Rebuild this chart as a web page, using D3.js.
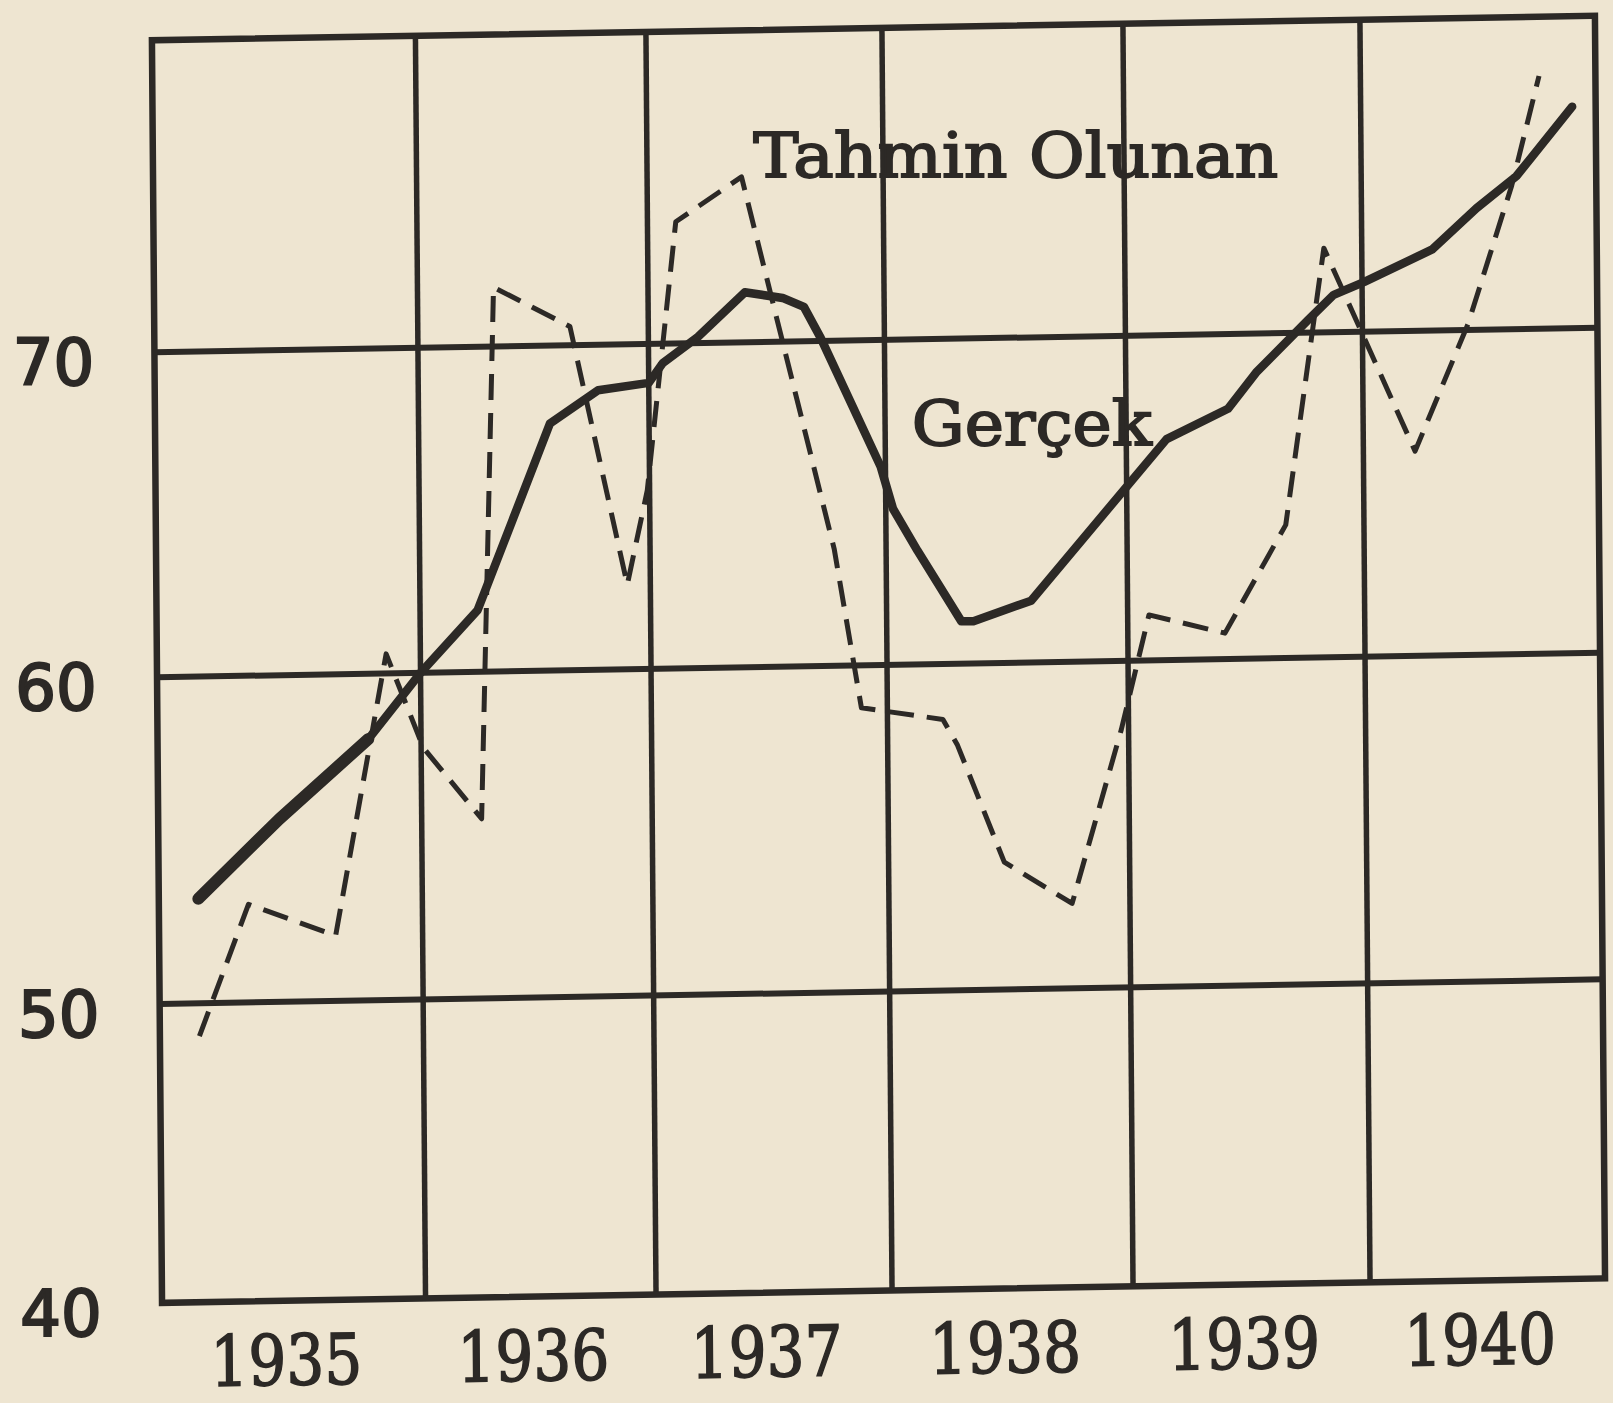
<!DOCTYPE html>
<html><head><meta charset="utf-8">
<script src="https://cdn.jsdelivr.net/npm/d3@7"></script>
<style>html,body{margin:0;padding:0;background:#eee5d1;} svg{display:block;}</style>
</head><body><svg id="c" width="1613" height="1403"></svg>
<script>
// ---- data ----
const years = [1935, 1936, 1937, 1938, 1939, 1940];
const yTickValues = [40, 50, 60, 70];
const seriesNames = ["Gerçek", "Tahmin Olunan"];

const gercekX = [1935.15, 1935.46, 1935.80, 1936.00, 1936.25, 1936.57, 1936.78, 1937.00, 1937.06, 1937.21,
                 1937.41, 1937.57, 1937.66, 1937.73, 1937.98, 1938.03, 1938.13, 1938.31, 1938.36, 1938.60,
                 1939.17, 1939.43, 1939.55, 1939.77, 1939.88, 1940.01, 1940.30, 1940.49, 1940.66, 1940.90];
const gercekY = [53.2, 55.6, 58.0, 60.0, 61.9, 67.6, 68.6, 68.8, 69.4, 70.2,
                 71.6, 71.4, 71.1, 70.1, 66.1, 64.8, 63.5, 61.3, 61.3, 61.9,
                 66.8, 67.7, 68.8, 70.4, 71.2, 71.6, 72.6, 73.9, 74.9, 77.1];

const tahminX = [1935.15, 1935.34, 1935.67, 1935.87, 1936.01, 1936.26, 1936.33, 1936.66, 1936.90, 1936.99,
                 1937.12, 1937.40, 1937.78, 1937.89, 1938.23, 1938.29, 1938.48, 1938.76, 1938.97, 1939.09,
                 1939.41, 1939.67, 1939.84, 1940.22, 1940.45, 1940.64, 1940.76];
const tahminY = [48.9, 53.0, 52.0, 60.6, 57.7, 55.5, 71.9, 70.6, 62.6, 65.5,
                 73.9, 75.3, 63.6, 58.7, 58.3, 57.5, 53.9, 52.6, 57.9, 61.4,
                 60.8, 64.1, 72.7, 66.3, 70.2, 74.6, 78.1];

// ---- layout ----
const W = 1613, H = 1403;
const cx = 880, cy = 662, skewB = -0.017, skewC = 0.008;
const ink = "#2c2926";

const x = d3.scaleLinear()
  .domain([1935, 1936, 1937, 1938, 1939, 1940, 1941])
  .range([-723, -459.5, -229, 7, 248, 485, 720]);
const y = d3.scaleLinear()
  .domain([80, 70, 60, 50, 40])
  .range([-634, -322, 3, 329.6, 628.6]);

function toScreen(u, v) { return [cx + u + skewC * v, cy + skewB * u + v]; }

const svg = d3.select("#c");
svg.append("rect").attr("width", W).attr("height", H).attr("fill", "#eee5d1");

const g = svg.append("g")
  .attr("transform", `translate(${cx},${cy}) matrix(1,${skewB},${skewC},1,0,0)`);

// grid
const x0 = x(1935), x1 = x(1941), yTop = y(80), yBot = y(40);
g.selectAll("line.v").data(years.slice(1)).join("line")
  .attr("class", "v")
  .attr("x1", d => x(d)).attr("x2", d => x(d))
  .attr("y1", yTop).attr("y2", yBot)
  .attr("stroke", ink).attr("stroke-width", 5.5);
g.selectAll("line.h").data(yTickValues.filter(v => v > 40)).join("line")
  .attr("class", "h")
  .attr("x1", x0).attr("x2", x1)
  .attr("y1", d => y(d)).attr("y2", d => y(d))
  .attr("stroke", ink).attr("stroke-width", 6);
g.append("rect")
  .attr("x", x0).attr("y", yTop).attr("width", x1 - x0).attr("height", yBot - yTop)
  .attr("fill", "none").attr("stroke", ink).attr("stroke-width", 6.5);

// series
const gercek = gercekX.map((d, i) => [d, gercekY[i]]);
const tahmin = tahminX.map((d, i) => [d, tahminY[i]]);
const line = d3.line().x(d => x(d[0])).y(d => y(d[1]));

g.append("path").datum(tahmin).attr("d", line)
  .attr("fill", "none").attr("stroke", ink).attr("stroke-width", 5)
  .attr("stroke-dasharray", "26,13").attr("stroke-linejoin", "round");

g.append("path").datum(gercek).attr("d", line)
  .attr("fill", "none").attr("stroke", ink).attr("stroke-width", 8.5)
  .attr("stroke-linejoin", "round").attr("stroke-linecap", "round");
g.append("path").datum(gercek.slice(0, 3)).attr("d", line)
  .attr("fill", "none").attr("stroke", ink).attr("stroke-width", 12)
  .attr("stroke-linejoin", "round").attr("stroke-linecap", "round");

// x labels (typed, follow the drawn baseline)
g.selectAll("text.xl").data(years).join("text")
  .attr("class", "xl")
  .attr("x", d => x(d + 0.5) - 8)
  .attr("y", yBot + 84)
  .attr("text-anchor", "middle")
  .attr("font-family", "DejaVu Serif")
  .attr("font-size", 70)
  .attr("textLength", 152).attr("lengthAdjust", "spacingAndGlyphs")
  .attr("fill", ink).attr("stroke", ink).attr("stroke-width", 1.6)
  .text(d => d);

// y labels
svg.selectAll("text.yl").data(yTickValues).join("text")
  .attr("class", "yl")
  .attr("x", d => toScreen(x(1935), y(d))[0] - 101)
  .attr("y", d => toScreen(x(1935), y(d))[1] + 11)
  .attr("text-anchor", "middle").attr("dominant-baseline", "central")
  .attr("font-family", "DejaVu Sans")
  .attr("font-size", 64)
  .attr("fill", ink).attr("stroke", ink).attr("stroke-width", 2.2)
  .text(d => d);

// series annotations (typed)
const annPos = [[1938.11, 66.75, 240], [1937.45, 75.3, 525]];
seriesNames.forEach((name, i) => {
  const p = toScreen(x(annPos[i][0]), y(annPos[i][1]));
  svg.append("text")
    .attr("x", p[0]).attr("y", p[1])
    .attr("font-family", "DejaVu Serif")
    .attr("font-size", 62)
    .attr("textLength", annPos[i][2]).attr("lengthAdjust", "spacingAndGlyphs")
    .attr("fill", ink).attr("stroke", ink).attr("stroke-width", 1.8)
    .text(name);
});
</script>
</body></html>
